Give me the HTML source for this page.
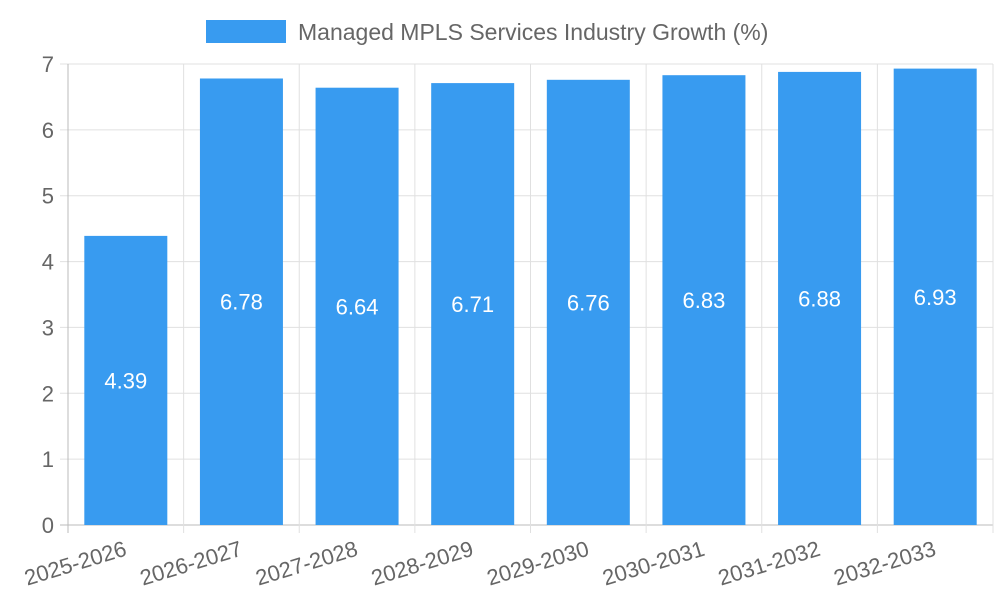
<!DOCTYPE html>
<html><head><meta charset="utf-8"><style>
html,body{margin:0;padding:0;background:#fff;}
svg{display:block;font-family:"Liberation Sans",sans-serif;}
</style></head><body>
<svg id="chart" width="1000" height="600">
<g id="legend">
<rect x="206" y="20" width="80" height="23" fill="#389BF0"></rect>
<text x="298" y="40" font-size="23" fill="#666">Managed MPLS Services Industry Growth (%)</text>
</g>
<g id="grid"></g>
<g id="bars"></g>
<g id="labels"></g>
</svg>
<script>
const categories=["2025-2026","2026-2027","2027-2028","2028-2029","2029-2030","2030-2031","2031-2032","2032-2033"];
const values=[4.39,6.78,6.64,6.71,6.76,6.83,6.88,6.93];
const yTicks=[0,1,2,3,4,5,6,7];
const NS="http://www.w3.org/2000/svg";
const L=68,R=993,T=64,B=525,yMax=7;
const bw=(R-L)/categories.length;
const y=v=>B-(v/yMax)*(B-T);
const x=i=>L+i*bw;
function mk(tag,attrs,parent,txt){const e=document.createElementNS(NS,tag);for(const k in attrs)e.setAttribute(k,attrs[k]);if(txt!==undefined)e.textContent=txt;parent.appendChild(e);return e;}
const grid=document.getElementById('grid'),bars=document.getElementById('bars'),labels=document.getElementById('labels');
yTicks.forEach(t=>{
 const g=mk('line',{x1:L-8,x2:R,y1:y(t),y2:y(t),stroke:t===0?'#bbb':'#e0e0e0','stroke-width':1},grid);
 
 
 const tl=mk('text',{x:L-14,y:y(t)+8,'text-anchor':'end','font-size':22,fill:'#666'},labels,String(t));
 
 
});
for(let i=0;i<=categories.length;i++){
 const g=mk('line',{x1:x(i),x2:x(i),y1:T,y2:B+8,stroke:i===0?'#bbb':'#e0e0e0','stroke-width':1},grid);
 
 
}
categories.forEach((c,i)=>{
 const cx=x(i)+bw/2,w=83;
 const r=mk('rect',{x:cx-w/2,y:y(values[i]),width:w,height:B-y(values[i]),fill:'#389BF0'},bars);
 
 
 const vl=mk('text',{x:cx,y:(y(values[i])+B)/2+8,'text-anchor':'middle','font-size':22,fill:'#fff'},bars,values[i].toFixed(2));
 
 
 const xl=mk('text',{x:cx+2,y:B+30,'text-anchor':'end','font-size':22,fill:'#666',transform:`rotate(-17 ${cx+2} ${B+30})`},labels,c);
 
 
});
</script>
</body></html>
